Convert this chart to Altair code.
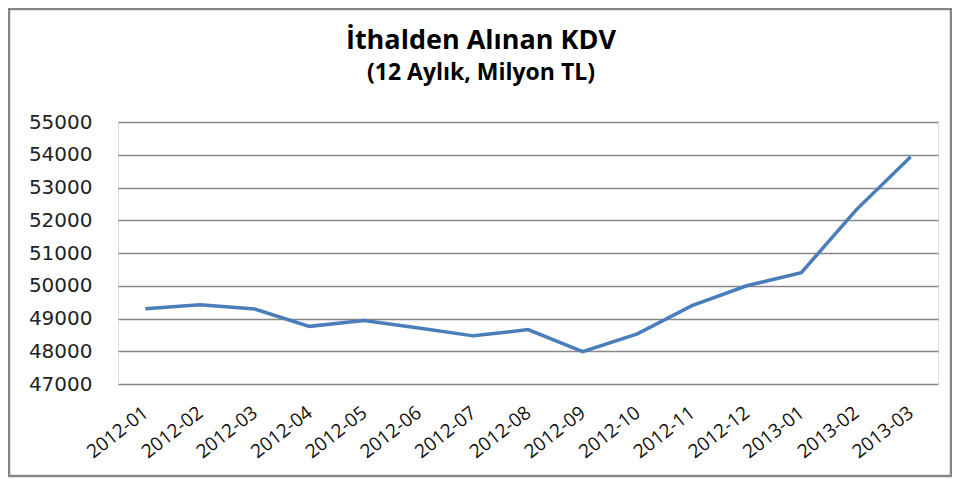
import altair as alt
import pandas as pd

months = ["2012-01", "2012-02", "2012-03", "2012-04", "2012-05", "2012-06", "2012-07",
          "2012-08", "2012-09", "2012-10", "2012-11", "2012-12", "2013-01", "2013-02", "2013-03"]
values = [49300, 49420, 49290, 48760, 48940, 48710, 48470,
          48660, 47990, 48530, 49390, 50000, 50400, 52310, 53940]
y_ticks = [47000, 48000, 49000, 50000, 51000, 52000, 53000, 54000, 55000]

title_text = "İthalden Alınan KDV"
subtitle_text = "(12 Aylık, Milyon TL)"

df = pd.DataFrame({"month": months, "value": values})
frame_df = pd.DataFrame({"k": [0]})

W, H = 820, 262

line = alt.Chart(df).mark_line(color="#4A7EBB", strokeWidth=3.5).encode(
    x=alt.X("month:N", sort=months, title=None,
            scale=alt.Scale(type="point", padding=0.5),
            axis=alt.Axis(labelAngle=-38, labelAlign="right", labelBaseline="middle",
                          labelPadding=26, domain=False, ticks=False, grid=False,
                          labelFont="Open Sans", labelFontSize=19, labelColor="#111")),
    y=alt.Y("value:Q", title=None,
            scale=alt.Scale(domain=[47000, 55000], nice=False, zero=False),
            axis=alt.Axis(values=y_ticks, format="d", domain=False, ticks=False,
                          grid=True, gridColor="#878787", gridWidth=1.4,
                          labelPadding=26, labelFont="DejaVu Sans", labelFontSize=20,
                          labelColor="#222")),
)

frame = alt.Chart(frame_df).mark_rect(fillOpacity=0, stroke="#868686", strokeWidth=2.5).encode(
    x=alt.value(-109), x2=alt.value(W + 13),
    y=alt.value(-113), y2=alt.value(H + 92),
)

chart = alt.layer(frame, line).properties(
    width=W, height=H,
    title=alt.TitleParams(text=title_text, subtitle=subtitle_text, anchor="middle",
                          frame="group", dx=-47, offset=-78,
                          font="Open Sans", fontSize=27, fontWeight="bold", color="#000",
                          subtitleFont="Open Sans", subtitleFontSize=23,
                          subtitleFontWeight="bold", subtitleColor="#000", subtitlePadding=7),
    padding={"left": 110, "top": 114, "right": 14, "bottom": 94},
    autosize=alt.AutoSizeParams(type="none"),
).configure_view(stroke=None).configure(background="white")

chart.save("out.html", embed_options={"renderer": "svg", "actions": False})
